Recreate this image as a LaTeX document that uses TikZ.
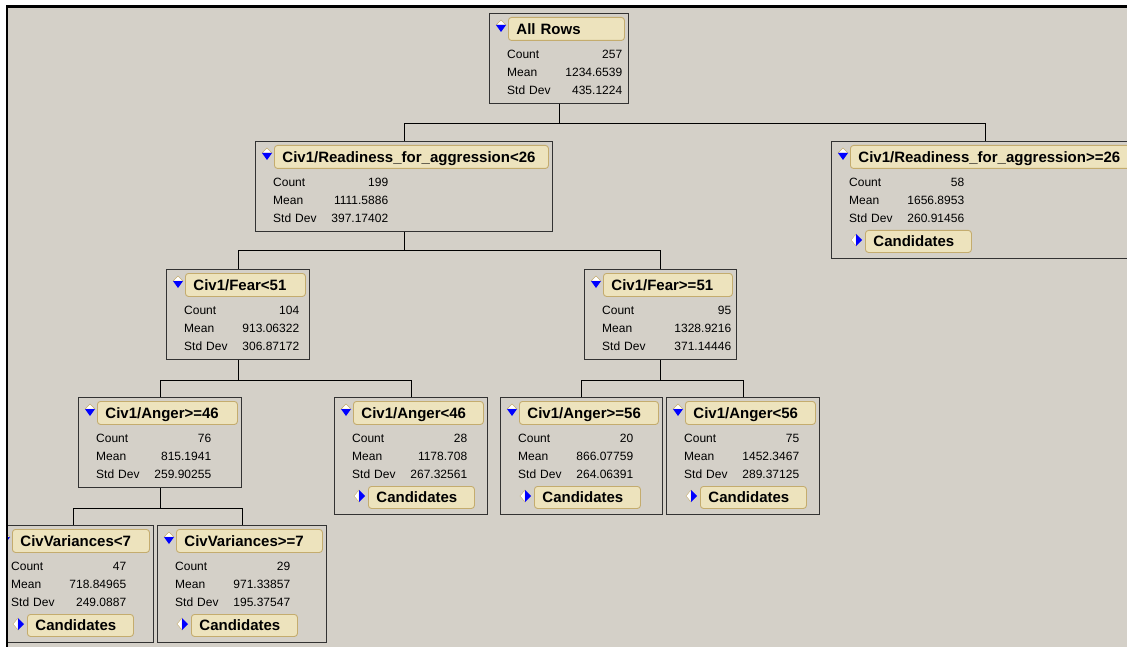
\documentclass[tikz,border=0pt]{standalone}
\usepackage{fontspec}
\setmainfont{Liberation Sans}
\usepackage{xcolor}
\usepackage{tikz}

\definecolor{panel}{RGB}{212,208,200}
\definecolor{tanfill}{RGB}{237,227,189}
\definecolor{tanline}{RGB}{196,172,110}
\definecolor{boxline}{RGB}{50,50,50}

\begin{document}
\begin{tikzpicture}
[x=1pt, y=-1pt,
 splitbox/.style={rectangle,draw=boxline,line width=1pt,anchor=north west,inner sep=0pt},
 heading/.style={rectangle,rounded corners=3pt,draw=tanline,fill=tanfill,line width=0.9pt,
   anchor=north west,inner xsep=8pt,inner ysep=0pt,minimum height=23pt,
   text height=10.7pt,text depth=0pt,align=left,font=\fontsize{15}{18}\selectfont\bfseries},
 cand/.style={heading,minimum height=22pt,text width=90pt},
 stats/.style={anchor=west,inner sep=0pt,text width=115pt,align=left,font=\fontsize{12}{18}\selectfont},
 edge/.style={draw=black,line width=1pt},
 pics/dnmark/.style={code={
   \filldraw[fill=white,draw=tanline,line width=0.4pt] (-5,0) -- (5,0) -- (0,-5) -- cycle;
   \fill[blue] (-5,0) -- (5,0) -- (0,7) -- cycle;}},
 pics/rtmark/.style={code={
   \filldraw[fill=white,draw=tanline,line width=0.4pt] (0,-6) -- (0,6) -- (-5,0) -- cycle;
   \fill[blue] (0,-6) -- (0,6) -- (6,0) -- cycle;}}]
\useasboundingbox (0,0) rectangle (1127,647);
\fill[white] (0,0) rectangle (1127,647);
\fill[panel] (7,6) rectangle (1127,647);

\begin{scope}
\clip (8,7) rectangle (1127,647);

% split boxes
\node[splitbox,minimum width=139,minimum height=90] (allrows) at (489,13) {};
\node[splitbox,minimum width=297,minimum height=90] (readylt) at (255,141) {};
\node[splitbox,minimum width=308,minimum height=117] (readyge) at (831,141) {};
\node[splitbox,minimum width=143,minimum height=90] (fearlt) at (166,269) {};
\node[splitbox,minimum width=152,minimum height=90] (fearge) at (584,269) {};
\node[splitbox,minimum width=163,minimum height=90] (angerge46) at (78,397) {};
\node[splitbox,minimum width=153,minimum height=117] (angerlt46) at (334,397) {};
\node[splitbox,minimum width=162,minimum height=117] (angerge56) at (500,397) {};
\node[splitbox,minimum width=153,minimum height=117] (angerlt56) at (666,397) {};
\node[splitbox,minimum width=160,minimum height=117] (varlt) at (-7,525) {};
\node[splitbox,minimum width=169,minimum height=117] (varge) at (157,525) {};

% tree lines
\draw[edge] (allrows.south) -- ++(0,20) -| (readylt.north);
\draw[edge] (allrows.south) -- ++(0,20) -| (readyge.north);
\draw[edge] (readylt.south) -- ++(0,18) -| (fearlt.north);
\draw[edge] (readylt.south) -- ++(0,18) -| (fearge.north);
\draw[edge] (fearlt.south) -- ++(0,20) -| (angerge46.north);
\draw[edge] (fearlt.south) -- ++(0,20) -| (angerlt46.north);
\draw[edge] (fearge.south) -- ++(0,20) -| (angerge56.north);
\draw[edge] (fearge.south) -- ++(0,20) -| (angerlt56.north);
\draw[edge] (angerge46.south) -- ++(0,20) -| (varlt.north);
\draw[edge] (angerge46.south) -- ++(0,20) -| (varge.north);

% headings
\node[heading,text width=100pt] (allrowsT) at ([shift={(19,4)}]allrows.north west) {All Rows};
\node[heading,text width=258pt] (readyltT) at ([shift={(19,4)}]readylt.north west) {Civ1/Readiness\_for\_aggression<26};
\node[heading,text width=269pt] (readygeT) at ([shift={(19,4)}]readyge.north west) {Civ1/Readiness\_for\_aggression>=26};
\node[heading,text width=104pt] (fearltT) at ([shift={(19,4)}]fearlt.north west) {Civ1/Fear<51};
\node[heading,text width=113pt] (feargeT) at ([shift={(19,4)}]fearge.north west) {Civ1/Fear>=51};
\node[heading,text width=124pt] (angerge46T) at ([shift={(19,4)}]angerge46.north west) {Civ1/Anger>=46};
\node[heading,text width=114pt] (angerlt46T) at ([shift={(19,4)}]angerlt46.north west) {Civ1/Anger<46};
\node[heading,text width=123pt] (angerge56T) at ([shift={(19,4)}]angerge56.north west) {Civ1/Anger>=56};
\node[heading,text width=114pt] (angerlt56T) at ([shift={(19,4)}]angerlt56.north west) {Civ1/Anger<56};
\node[heading,text width=121pt] (varltT) at ([shift={(19,4)}]varlt.north west) {CivVariances<7};
\node[heading,text width=130pt] (vargeT) at ([shift={(19,4)}]varge.north west) {CivVariances>=7};

\foreach \b in {allrows,readylt,readyge,fearlt,fearge,angerge46,angerlt46,angerge56,angerlt56,varlt,varge}
  \pic at ([shift={(12,12)}]\b.north west) {dnmark};

% count, mean, std dev
\node[stats] (allrowsS) at ([shift={(18,59.5)}]allrows.north west) {Count\hfill 257\\Mean\hfill 1234.6539\\Std Dev\hfill 435.1224};
\node[stats] (readyltS) at ([shift={(18,59.5)}]readylt.north west) {Count\hfill 199\\Mean\hfill 1111.5886\\Std Dev\hfill 397.17402};
\node[stats] (readygeS) at ([shift={(18,59.5)}]readyge.north west) {Count\hfill 58\\Mean\hfill 1656.8953\\Std Dev\hfill 260.91456};
\node[stats] (fearltS) at ([shift={(18,59.5)}]fearlt.north west) {Count\hfill 104\\Mean\hfill 913.06322\\Std Dev\hfill 306.87172};
\node[stats,text width=129pt] (feargeS) at ([shift={(18,59.5)}]fearge.north west) {Count\hfill 95\\Mean\hfill 1328.9216\\Std Dev\hfill 371.14446};
\node[stats] (angerge46S) at ([shift={(18,59.5)}]angerge46.north west) {Count\hfill 76\\Mean\hfill 815.1941\\Std Dev\hfill 259.90255};
\node[stats] (angerlt46S) at ([shift={(18,59.5)}]angerlt46.north west) {Count\hfill 28\\Mean\hfill 1178.708\\Std Dev\hfill 267.32561};
\node[stats] (angerge56S) at ([shift={(18,59.5)}]angerge56.north west) {Count\hfill 20\\Mean\hfill 866.07759\\Std Dev\hfill 264.06391};
\node[stats] (angerlt56S) at ([shift={(18,59.5)}]angerlt56.north west) {Count\hfill 75\\Mean\hfill 1452.3467\\Std Dev\hfill 289.37125};
\node[stats] (varltS) at ([shift={(18,59.5)}]varlt.north west) {Count\hfill 47\\Mean\hfill 718.84965\\Std Dev\hfill 249.0887};
\node[stats] (vargeS) at ([shift={(18,59.5)}]varge.north west) {Count\hfill 29\\Mean\hfill 971.33857\\Std Dev\hfill 195.37547};

% candidate buttons on the leaves
\foreach \b in {readyge,angerlt46,angerge56,angerlt56,varlt,varge}{
  \node[cand] (\b C) at ([shift={(34,89)}]\b.north west) {Candidates};
  \pic at ([shift={(25,99)}]\b.north west) {rtmark};
}
\end{scope}

% window frame
\draw[line width=2.5pt] (7,647) -- (7,6.5) -- (1127,6.5);
\end{tikzpicture}
\end{document}
